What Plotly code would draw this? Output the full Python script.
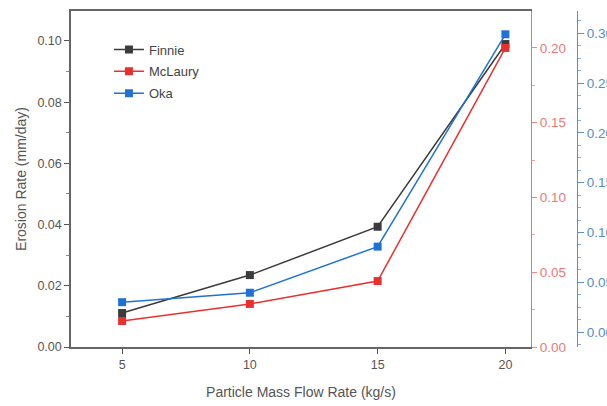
import plotly.graph_objects as go

flow_rate = [5, 10, 15, 20]
finnie = [0.0111, 0.0235, 0.0393, 0.0990]
mclaury = [0.0174, 0.0288, 0.0441, 0.2000]
oka = [0.0300, 0.0395, 0.0858, 0.2990]

left_ticks = [0.00, 0.02, 0.04, 0.06, 0.08, 0.10]
red_ticks = [0.00, 0.05, 0.10, 0.15, 0.20]
blue_ticks = [0.00, 0.05, 0.10, 0.15, 0.20, 0.25, 0.30]
x_ticks = [5, 10, 15, 20]

c_black = "#3b3b3b"
c_red = "#e8312f"
c_blue = "#1f72d4"
font = "Liberation Sans, Arial, sans-serif"

fig = go.Figure()
fig.add_trace(go.Scatter(x=flow_rate, y=finnie, name="Finnie", mode="lines+markers",
                         legendgroup="a",
                         line=dict(color=c_black, width=1.5),
                         marker=dict(symbol="square", size=8, color=c_black), yaxis="y"))
fig.add_trace(go.Scatter(x=flow_rate, y=mclaury, name="McLaury", mode="lines+markers",
                         legendgroup="b",
                         line=dict(color=c_red, width=1.5),
                         marker=dict(symbol="square", size=8, color=c_red), yaxis="y2"))
fig.add_trace(go.Scatter(x=flow_rate, y=oka, name="Oka", mode="lines+markers",
                         legendgroup="c",
                         line=dict(color=c_blue, width=1.5),
                         marker=dict(symbol="square", size=8, color=c_blue), yaxis="y3"))

fig.update_layout(
    template="none",
    width=607, height=406,
    margin=dict(l=71, r=30, t=11, b=59),
    paper_bgcolor="white", plot_bgcolor="white",
    font=dict(family=font, size=12, color="#555555"),
    showlegend=True,
    legend=dict(x=0.075, y=0.93, xanchor="left", yanchor="top",
                bgcolor="rgba(0,0,0,0)", font=dict(size=13, color="#444444"),
                itemwidth=30, tracegroupgap=2),
    xaxis=dict(domain=[0, 0.909], range=[3, 21], tickvals=x_ticks,
               ticks="outside", ticklen=5, tickcolor="#555555",
               showline=True, linecolor="#666666", linewidth=1.5, mirror=True,
               showgrid=False, zeroline=False, automargin=False,
               tickfont=dict(size=12.5, color="#555555"),
               title=dict(text="Particle Mass Flow Rate (kg/s)", standoff=16,
                          font=dict(size=14, color="#555555"))),
    yaxis=dict(range=[0, 0.1098], tickvals=left_ticks, tickformat=".2f",
               ticks="outside", ticklen=5, tickcolor="#555555",
               showline=True, linecolor="#666666", linewidth=1.5,
               showgrid=False, zeroline=False, automargin=False,
               minor=dict(dtick=0.01, ticks="outside", ticklen=3, tickcolor="#888888"),
               tickfont=dict(size=12.5, color="#555555"),
               title=dict(text="Erosion Rate (mm/day)", standoff=8,
                          font=dict(size=14, color="#555555"))),
    yaxis2=dict(range=[0, 0.2247], tickvals=red_ticks, tickformat=".2f",
                overlaying="y", side="right", anchor="x",
                ticks="outside", ticklen=5, tickcolor="#f08a8a",
                showline=True, linecolor="#f07070", linewidth=1.2,
                showgrid=False, zeroline=False, automargin=False,
                minor=dict(dtick=0.025, ticks="outside", ticklen=3, tickcolor="#f4a0a0"),
                tickfont=dict(size=13.5, color="#f07878")),
    yaxis3=dict(range=[-0.015, 0.3224], tickvals=blue_ticks, tickformat=".2f",
                overlaying="y", side="right", anchor="free", position=1.0,
                ticks="outside", ticklen=6, tickcolor="#5a90c8",
                showline=True, linecolor="#5a90c8", linewidth=1.2,
                showgrid=False, zeroline=False, automargin=False,
                minor=dict(dtick=0.0125, ticks="outside", ticklen=3, tickcolor="#8ab0d8"),
                tickfont=dict(size=13.5, color="#5a8cc4")),
)

fig.write_html("out.html")
